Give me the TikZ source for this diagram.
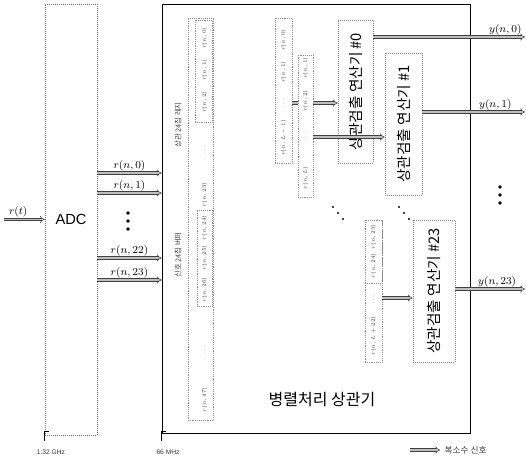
\documentclass[tikz,border=0pt]{standalone}
\usepackage{graphicx}
\usepackage{fontspec}
\setsansfont{Liberation Sans}
\newfontfamily\kr{Noto Sans CJK KR}
\usetikzlibrary{arrows.meta}

\begin{document}
\begin{tikzpicture}[
      x=0.75pt, y=-0.75pt,
      blockbox/.style = {
        rectangle, draw=black!55, densely dotted, line width=0.5pt,
        inner sep=0pt
      },
      regcol/.style = {
        rectangle, draw=black!45, densely dotted, line width=0.4pt,
        fill=white, inner sep=0pt
      },
      corrbox/.style = {
        rectangle, draw=black!50, densely dotted, line width=0.5pt,
        fill=white, inner sep=0pt, minimum height=106.5pt,
        font=\kr\fontsize{11}{13}\selectfont
      },
      reg/.style  = {rotate=90, scale=0.8, font=\fontsize{5}{6}\selectfont, inner sep=0.5pt, text=black!80},
      cplx/.style = {-{Implies}, double=black!25, double distance=1.4pt,
                     line width=0.45pt, draw=black!75},
      lbl/.style  = {font=\fontsize{8}{9}\selectfont, inner sep=1.5pt},
      side/.style = {rotate=90, font=\kr\fontsize{5.5}{6}\selectfont, text=black!75},
      clk/.style  = {font=\sffamily\fontsize{5}{6}\selectfont, text=black!80}
    ]
      \useasboundingbox (0,0) rectangle (526,463);

      % ===================== ADC and main block =====================
      \node[blockbox, minimum width=39pt, minimum height=323.25pt,
            font=\sffamily\fontsize{11}{12}\selectfont] (adc) at (71,219.5) {ADC};
      \node[draw=black, line width=0.6pt, minimum width=231pt,
            minimum height=321.75pt] (main) at (316,218.5) {};
      \node[font=\kr\fontsize{12}{14}\selectfont] (mainlbl) at (322,400) {병렬처리 상관기};

      % Input
      \coordinate (rin) at (4,219.5);
      \draw[cplx] (rin) -- node[lbl, above, pos=0.35] {$r(t)$} (adc.west);

      % ADC -> parallel correlator
      \draw[cplx] (adc.east |- 0,173) -- node[lbl, above] {$r(n,0)$} (main.west |- 0,173);
      \draw[cplx] (adc.east |- 0,193) -- node[lbl, above] {$r(n,1)$} (main.west |- 0,193);
      \draw[cplx] (adc.east |- 0,258) -- node[lbl, above] {$r(n,22)$} (main.west |- 0,258);
      \draw[cplx] (adc.east |- 0,280) -- node[lbl, above] {$r(n,23)$} (main.west |- 0,280);
      \foreach \yy in {213,221,229} \fill (128,\yy) circle (1.4pt);

      % ===================== Input buffer =====================
      \node[regcol, minimum width=19pt, minimum height=301.5pt] (buf) at (200.5,219) {};
      \node[regcol, minimum width=12.75pt, minimum height=76.5pt] (bufA) at (203.5,71) {};
      \node[regcol, minimum width=11.25pt, minimum height=72pt] (bufB) at (204.5,258) {};
      \foreach \yy/\tx in {38/{r(n,0)}, 70/{r(n,1)}, 102/{r(n,2)}, 150/{\cdots},
                           195/{r(n,23)}, 228/{r(n,24)}, 258/{r(n,25)}, 290/{r(n,26)},
                           350/{\cdots}, 400/{r(n,47)}}
        \node[reg] (b\yy) at (204.5,\yy) {$\tx$};
      \node[side] (sideA) at (178,125) {상관 24칩 레지};
      \node[side] (sideB) at (178,255) {신호 24칩 버퍼};

      % ===================== Correlator #0 =====================
      \node[regcol, minimum width=12.75pt, minimum height=108.75pt] (colA) at (283.5,90.5) {};
      \foreach \yy/\tx in {40/{r(n,0)}, 72/{r(n,1)}, 104/{\cdots}, 138/{r(n,L-1)}}
        \node[reg] (a\yy) at (283.5,\yy) {$\tx$};
      \node[corrbox, minimum width=26.25pt, minimum height=107.25pt] (box0) at (355.5,91.5)
        {\rotatebox{90}{상관검출 연산기 \#0}};
      \draw[cplx] (colA.east |- 0,103) -- (box0.west |- 0,103);

      % ===================== Correlator #1 =====================
      \node[regcol, minimum width=11.25pt, minimum height=106.5pt] (colB) at (305.5,126) {};
      \foreach \yy/\tx in {68/{r(n,1)}, 101/{r(n,2)}, 137/{\cdots}, 178/{r(n,L)}}
        \node[reg] (c\yy) at (305.5,\yy) {$\tx$};
      \node[corrbox, minimum width=27.75pt] (box1) at (403.5,124)
        {\rotatebox{90}{상관검출 연산기 \#1}};
      \draw[cplx] (colB.east |- 0,137) -- (box1.west |- 0,137);

      % ===================== Correlator #23 =====================
      \node[regcol, minimum width=12.75pt, minimum height=106.5pt] (colW) at (373.5,291) {};
      \node[regcol, minimum width=12.75pt, minimum height=47.25pt] (colWtop) at (373.5,251.5) {};
      \foreach \yy/\tx in {237/{r(n,23)}, 266/{r(n,24)}, 300/{\cdots}, 336/{r(n,L+22)}}
        \node[reg] (d\yy) at (373.5,\yy) {$\tx$};
      \node[corrbox, minimum width=31.5pt] (box23) at (434,291)
        {\rotatebox{90}{상관검출 연산기 \#23}};
      \draw[cplx] (colW.east |- 0,298) -- (box23.west |- 0,298);

      % skipped correlators
      \foreach \dd in {0,5,10} {
        \fill (333+\dd,207+1.2*\dd) circle (0.8pt);
        \fill (399+\dd,207+1.2*\dd) circle (0.8pt);
      }

      % ===================== Outputs =====================
      \coordinate (out0) at (525,37);
      \coordinate (out1) at (525,112);
      \coordinate (out23) at (525,289);
      \draw[cplx] (box0.east |- out0) -- node[lbl, above, pos=0.87] {$y(n,0)$} (out0);
      \draw[cplx] (box1.east |- out1) -- node[lbl, above, pos=0.71] {$y(n,1)$} (out1);
      \draw[cplx] (box23.east |- out23) -- node[lbl, above, pos=0.6] {$y(n,23)$} (out23);
      \foreach \yy in {187,195,203} \fill (500,\yy) circle (1.4pt);

      % ===================== Clocks =====================
      \draw[line width=0.5pt] (adc.south west) ++(0,6) -- ++(0,-10) -- ++(4,0);
      \draw[line width=0.5pt] (main.south west) ++(0,8) -- ++(0,-10) -- ++(4,0);
      \node[clk] (clkA) at (51,452) {1.32 GHz};
      \node[clk] (clkB) at (168,452) {66 MHz};

      % Legend
      \coordinate (legA) at (410,450);
      \coordinate (legB) at (440,450);
      \draw[cplx] (legA) -- (legB);
      \node[right, font=\kr\fontsize{6.5}{7}\selectfont, text=black!75] (legT) at (legB) {복소수 신호};

    \end{tikzpicture}
\end{document}
